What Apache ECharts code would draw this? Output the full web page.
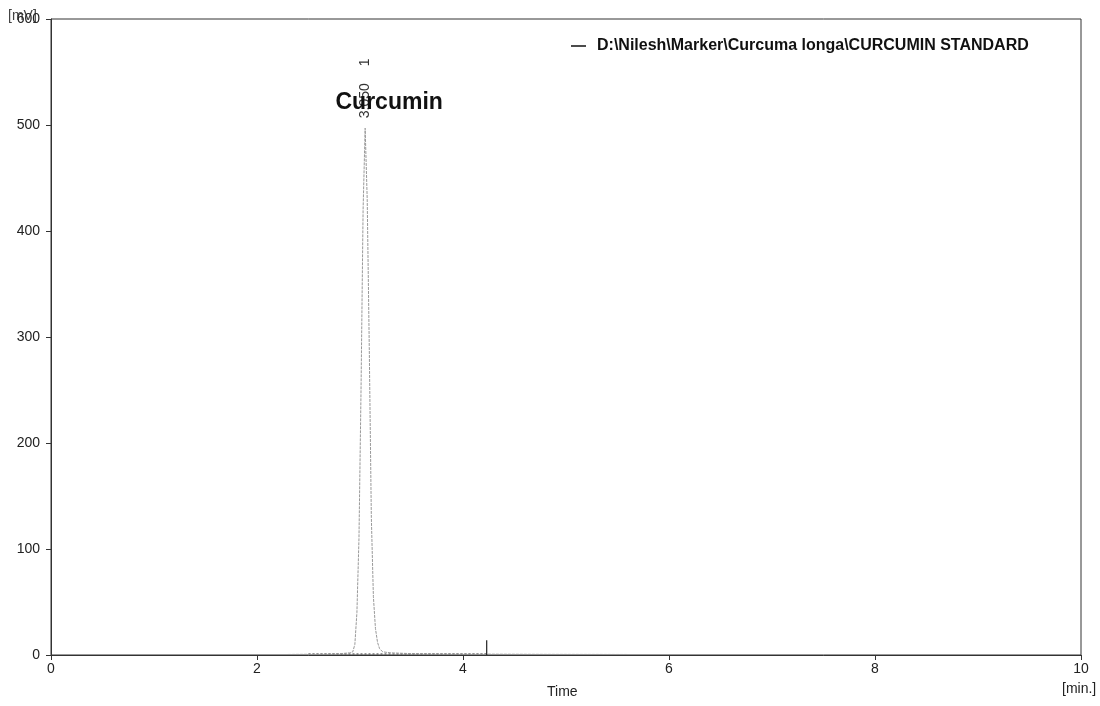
<!DOCTYPE html>
<html>
<head>
<meta charset="utf-8">
<script src="https://cdn.jsdelivr.net/npm/echarts@6/dist/echarts.min.js"></script>
<style>
  html, body { margin: 0; padding: 0; background: #fff; }
  #chart { width: 1100px; height: 706px; }
</style>
</head>
<body>
<div id="chart"></div>
<script>
// chromatogram trace: [time (min), signal (mV)]
const traceName = 'D:\\Nilesh\\Marker\\Curcuma longa\\CURCUMIN STANDARD';
const trace = [
  [2.3, 0.5], [2.6, 0.8], [2.8, 1.2], [2.9, 2], [2.93, 3], [2.95, 10],
  [2.97, 40], [2.99, 110], [3.01, 250], [3.03, 420], [3.05, 497],
  [3.07, 430], [3.09, 290], [3.11, 130], [3.13, 55], [3.15, 25],
  [3.17, 12], [3.19, 6], [3.22, 3], [3.3, 2], [3.5, 1.3], [3.9, 1],
  [4.2, 0.8], [4.8, 0.6], [5.6, 0.5]
];
// integration baseline and end-of-integration marker
const baseline = [[2.5, 1], [4.23, 1]];
const eventMark = [[4.23, 0], [4.23, 14]];
// peak annotation
const peakName = 'Curcumin';
const peakTime = 3.05;
const peakHeight = 497;
const peakLabel = '3.050';
const peakNumber = '1';

const xTicks = { min: 0, max: 10, interval: 2 };
const yTicks = { min: 0, max: 600, interval: 100 };

const font = 'Liberation Sans, Arial, sans-serif';
const chart = echarts.init(document.getElementById('chart'));

chart.setOption({
  animation: false,
  backgroundColor: '#fff',
  grid: { left: 51, right: 19, top: 19, bottom: 51, show: true, borderColor: '#333', borderWidth: 1 },
  legend: {
    left: 566, top: 33,
    icon: 'rect', itemWidth: 15, itemHeight: 1.5,
    textStyle: { fontFamily: font, fontSize: 16, fontWeight: 'bold', color: '#111', padding: [0, 0, 0, 6] },
    data: [{ name: traceName, itemStyle: { color: '#111' } }]
  },
  xAxis: {
    type: 'value', min: xTicks.min, max: xTicks.max, interval: xTicks.interval,
    axisLine: { lineStyle: { color: '#333' } },
    axisTick: { length: 5, lineStyle: { color: '#333' } },
    axisLabel: { fontFamily: font, fontSize: 14, color: '#222', margin: 7 },
    splitLine: { show: false }
  },
  yAxis: {
    type: 'value', min: yTicks.min, max: yTicks.max, interval: yTicks.interval,
    axisLine: { show: true, lineStyle: { color: '#333' } },
    axisTick: { show: true, length: 5, lineStyle: { color: '#333' } },
    axisLabel: { fontFamily: font, fontSize: 14, color: '#222', margin: 11 },
    splitLine: { show: false }
  },
  series: [
    {
      name: traceName, type: 'line', data: trace, symbol: 'none',
      lineStyle: { color: '#999', width: 1, type: [3, 1] },
      itemStyle: { color: '#999' }, z: 3
    },
    {
      name: 'baseline', type: 'line', data: baseline, symbol: 'none',
      lineStyle: { color: '#444', width: 1, type: [2, 2] }, z: 2
    },
    {
      name: 'event', type: 'line', data: eventMark, symbol: 'none',
      lineStyle: { color: '#222', width: 1.2 }, z: 4
    }
  ]
});

const pk = chart.convertToPixel({ xAxisIndex: 0, yAxisIndex: 0 }, [peakTime, peakHeight]);
chart.setOption({
  graphic: [
    { type: 'text', x: pk[0] + 24, y: pk[1] - 26,
      style: { text: peakName, fontFamily: font, fontSize: 23, fontWeight: 'bold', fill: '#111', align: 'center', verticalAlign: 'middle' }, z: 10 },
    { type: 'text', x: pk[0], y: pk[1] - 10, rotation: Math.PI / 2,
      style: { text: peakLabel, fontFamily: font, fontSize: 14, fill: '#333', align: 'left', verticalAlign: 'middle' }, z: 9 },
    { type: 'text', x: pk[0], y: pk[1] - 62, rotation: Math.PI / 2,
      style: { text: peakNumber, fontFamily: font, fontSize: 14, fill: '#333', align: 'left', verticalAlign: 'middle' }, z: 9 },
    { type: 'text', left: 547, top: 685,
      style: { text: 'Time', fontFamily: font, fontSize: 14, fill: '#222' } },
    { type: 'text', left: 1062, top: 682,
      style: { text: '[min.]', fontFamily: font, fontSize: 14, fill: '#222' } },
    { type: 'text', left: 8, top: 9,
      style: { text: '[mV]', fontFamily: font, fontSize: 14, fill: '#444' } }
  ]
});
</script>
</body>
</html>
